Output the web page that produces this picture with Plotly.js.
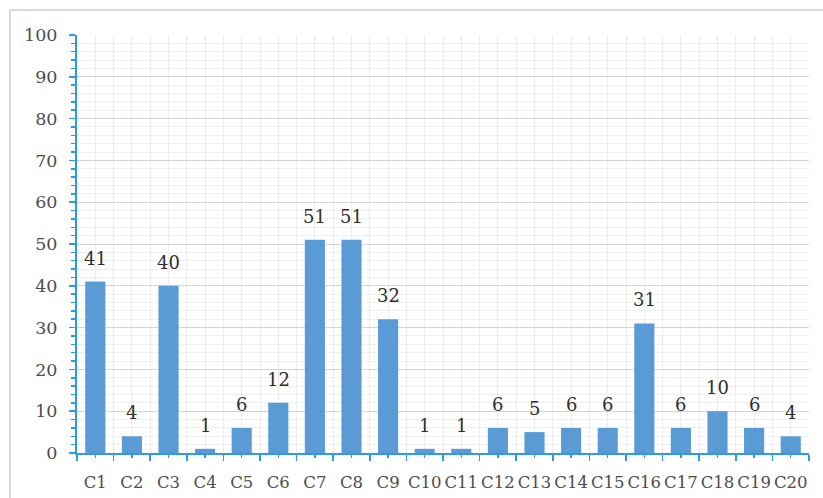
<!DOCTYPE html>
<html>
<head>
<meta charset="utf-8">
<script src="https://cdn.plot.ly/plotly-3.0.1.min.js"></script>
<style>html,body{margin:0;padding:0;background:#fff;overflow:hidden}</style>
</head>
<body>
<div id="chart" style="width:823px;height:498px"></div>
<script>
const categories = ["C1","C2","C3","C4","C5","C6","C7","C8","C9","C10","C11","C12","C13","C14","C15","C16","C17","C18","C19","C20"];
const values = [41,4,40,1,6,12,51,51,32,1,1,6,5,6,6,31,6,10,6,4];
const yTickVals = [0,10,20,30,40,50,60,70,80,90,100];

const idx = categories.map((c, i) => i);
const axisBlue = '#2E9AE5';
const font = 'DejaVu Serif, Cambria, serif';

const trace = {
  type: 'bar',
  x: idx,
  y: values,
  width: 0.55,
  marker: {color: '#5B9BD5'},
  hoverinfo: 'skip'
};

const annotations = values.map((v, i) => ({
  x: i, y: v, xref: 'x', yref: 'y',
  text: String(v), showarrow: false,
  yanchor: 'bottom', yshift: 11,
  font: {family: font, size: 18, color: '#2e2e2e'}
}));

const layout = {
  width: 823, height: 498,
  margin: {l: 77, r: 14, t: 35, b: 45},
  paper_bgcolor: '#fff', plot_bgcolor: '#fff',
  showlegend: false,
  xaxis: {
    range: [-0.5, 19.5],
    tickmode: 'array', tickvals: idx, ticktext: categories,
    tickangle: 0,
    ticks: 'outside', ticklen: 3, tickcolor: axisBlue, tickwidth: 1.5,
    showline: true, linecolor: axisBlue, linewidth: 2,
    showgrid: true, gridcolor: '#ececec', gridwidth: 1,
    zeroline: false,
    ticklabelstandoff: 10,
    tickfont: {family: font, size: 16.5, color: '#4d4d4d'},
    minor: {tick0: -0.5, dtick: 1, ticks: 'outside', ticklen: 6, tickcolor: axisBlue, tickwidth: 1.5,
            showgrid: true, gridcolor: '#ececec', gridwidth: 1},
    fixedrange: true
  },
  yaxis: {
    range: [0, 100],
    tickmode: 'array', tickvals: yTickVals,
    ticks: 'outside', ticklen: 6, tickcolor: axisBlue, tickwidth: 1.5,
    showline: true, linecolor: axisBlue, linewidth: 2,
    showgrid: true, gridcolor: '#d6d6d6', gridwidth: 1,
    zeroline: false,
    ticklabelstandoff: 8,
    tickfont: {family: font, size: 17.5, color: '#4d4d4d'},
    minor: {dtick: 2, ticks: 'outside', ticklen: 4, tickcolor: axisBlue, tickwidth: 1.5,
            showgrid: true, gridcolor: '#f0f0f0', gridwidth: 1},
    fixedrange: true
  },
  annotations: annotations,
  shapes: [{
    type: 'rect', xref: 'paper', yref: 'paper',
    x0: -0.0915, x1: 1.2, y0: -0.3, y1: 1.0598,
    line: {color: '#d9d9d9', width: 2}, fillcolor: 'rgba(0,0,0,0)', layer: 'below'
  }]
};

Plotly.newPlot('chart', [trace], layout, {displayModeBar: false, staticPlot: true});
</script>
</body>
</html>
